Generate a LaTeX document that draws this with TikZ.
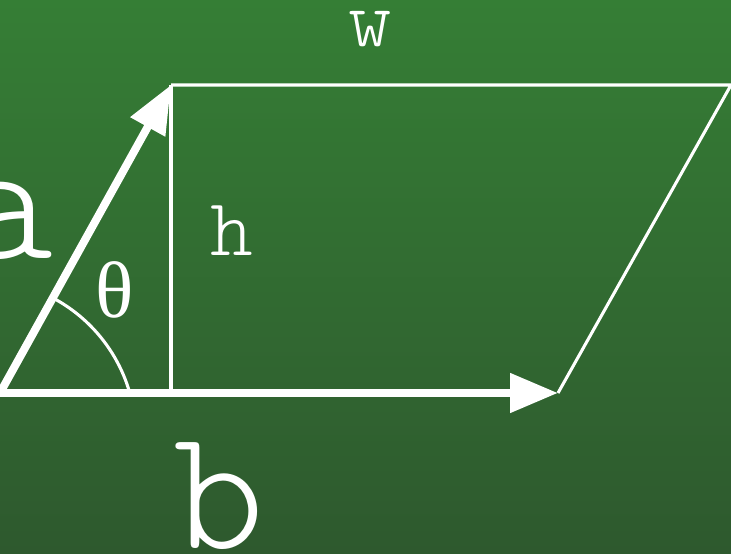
\documentclass[tikz,border=0pt]{standalone}
\usepackage{fontspec}
\newfontfamily\thfont{Liberation Serif}
\newfontfamily\lmlight{lmmonolt10-regular.otf}
\usetikzlibrary{arrows.meta}
\definecolor{bgtop}{RGB}{53,126,53}
\definecolor{bgbot}{RGB}{46,89,46}
\begin{document}
\begin{tikzpicture}[x=0.75pt,y=-0.75pt,
  vec/.style={draw=white,line width=6pt,-{Triangle[length=36pt,width=28.5pt]}},
  edge/.style={draw=white,line width=2.3pt},
  lbl/.style={text=white,inner sep=0pt,anchor=base}]
\useasboundingbox (0,0) rectangle (731,553);
\shade[top color=bgtop,bottom color=bgbot] (0,0) rectangle (731,553);
\coordinate (O) at (0,393);
\coordinate (A) at (171,85);
\coordinate (B) at (558,393);
\coordinate (C) at (731,85);
\coordinate (F) at (171,393);
\draw[edge] (A) -- (C) -- (B);
\draw[edge] (A) -- (F);
\draw[edge] (53,298) arc[start angle=-62,end angle=-16,radius=156];
\draw[vec] (O) -- (B);
\draw[vec] (O) -- (A);
\node[lbl,font=\lmlight\fontsize{62}{62}\selectfont] (w) at (370,46) {w};
\node[lbl,font=\lmlight\fontsize{61}{61}\selectfont] (h) at (232,255) {h};
\node[lbl,font=\thfont\fontsize{60}{60}\selectfont] (th) at (115,317) {θ};
\node[lbl,anchor=base east,font=\lmlight\fontsize{132}{132}\selectfont] (a) at (54,258) {a};
\node[lbl,font=\lmlight\fontsize{130}{130}\selectfont] (b) at (219,548) {b};
\end{tikzpicture}
\end{document}
